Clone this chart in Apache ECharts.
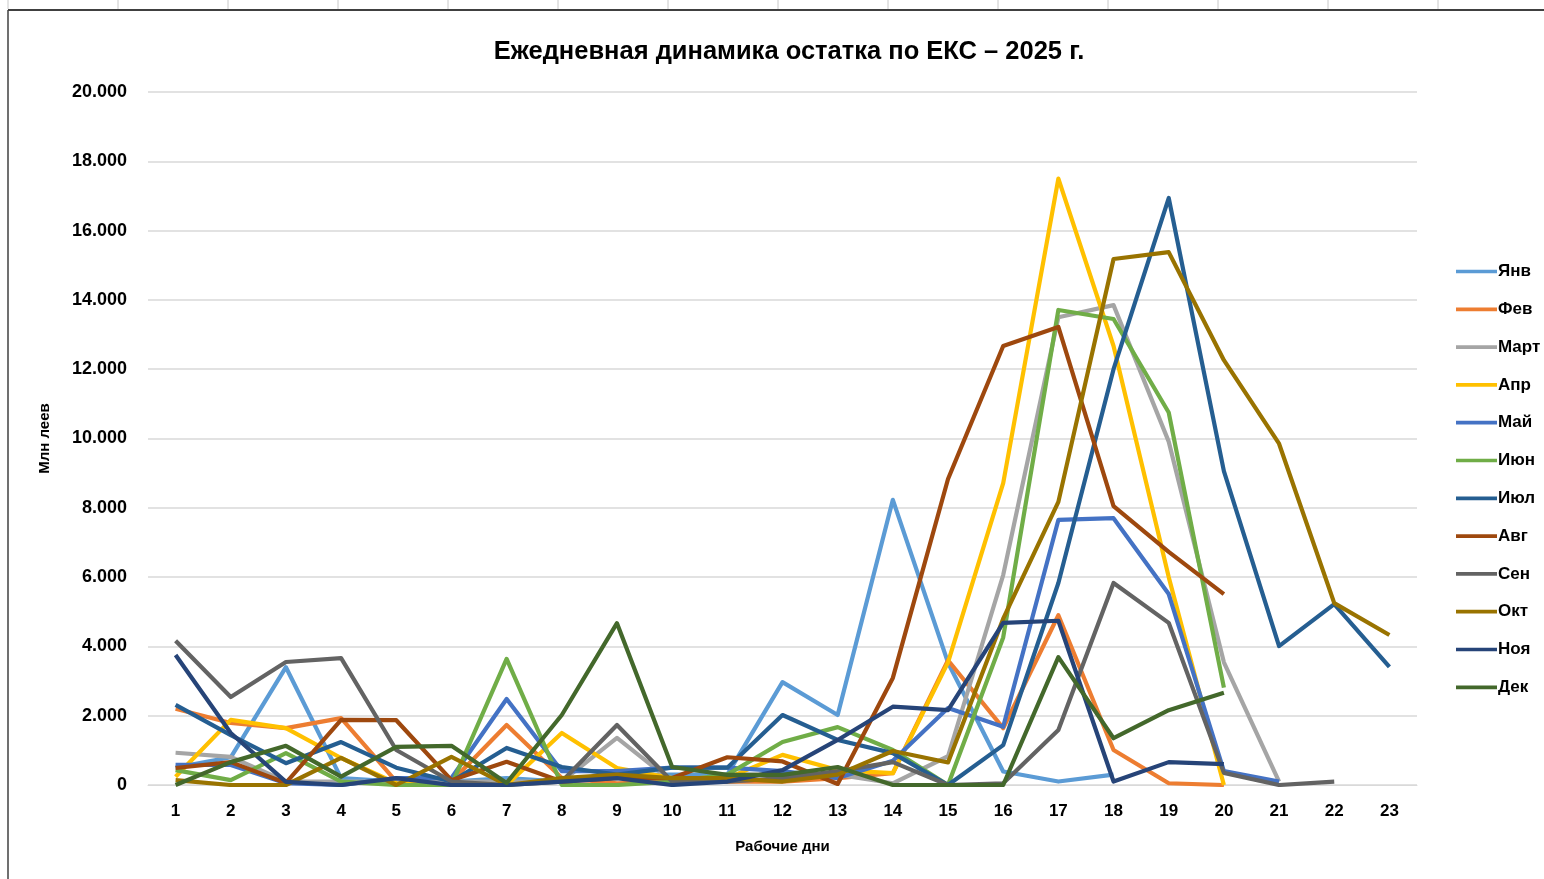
<!DOCTYPE html>
<html>
<head>
<meta charset="utf-8">
<script src="https://cdn.jsdelivr.net/npm/echarts@6/dist/echarts.min.js"></script>
<style>
html,body{margin:0;padding:0;background:#fff;}
#c{width:1544px;height:879px;}
</style>
</head>
<body>
<div id="c"></div>
<script>
const days = ['1','2','3','4','5','6','7','8','9','10','11','12','13','14','15','16','17','18','19','20','21','22','23'];
const monthNames = ['Янв','Фев','Март','Апр','Май','Июн','Июл','Авг','Сен','Окт','Ноя','Дек'];
const colors = ['#5B9BD5','#ED7D31','#A5A5A5','#FFC000','#4472C4','#70AD47','#255E91','#9E480E','#636363','#997300','#264478','#43682B'];

const jan = [500, 800, 3400, 200, 100, 100, 200, 100, 300, 300, 300, 2970, 2020, 8230, 3530, 390, 100, 300];
const feb = [2200, 1790, 1640, 1930, 100, 100, 1730, 200, 50, 100, 100, 100, 200, 340, 3600, 1640, 4900, 1010, 50, 0];
const mar = [930, 810, 100, 100, 100, 100, 100, 100, 1360, 100, 300, 300, 300, 50, 830, 6060, 13500, 13850, 9910, 3540, 100];
const apr = [240, 1880, 1640, 780, 50, 0, 0, 1500, 490, 200, 200, 870, 430, 340, 3540, 8710, 17500, 12670, 6000, 0];
const may = [580, 580, 50, 0, 200, 200, 2480, 400, 400, 500, 500, 400, 200, 700, 2220, 1680, 7650, 7700, 5510, 400, 100];
const jun = [430, 140, 920, 100, 0, 0, 3640, 0, 0, 100, 300, 1240, 1670, 1010, 0, 4260, 13710, 13450, 10750, 2810];
const jul = [2310, 1440, 630, 1240, 500, 100, 1070, 520, 300, 500, 500, 2020, 1300, 920, 0, 1150, 5830, 12000, 16940, 9060, 4010, 5220, 3410];
const aug = [490, 660, 60, 1880, 1870, 140, 670, 100, 200, 200, 800, 680, 30, 3090, 8830, 12670, 13220, 8050, 6730, 5510];
const sep = [4165, 2540, 3550, 3660, 1010, 100, 0, 100, 1730, 100, 100, 200, 400, 660, 0, 50, 1590, 5830, 4680, 350, 0, 100];
const oct = [140, 0, 0, 780, 0, 810, 0, 200, 300, 200, 200, 100, 300, 980, 650, 4800, 8170, 15180, 15380, 12260, 9850, 5250, 4330];
const nov = [3750, 1500, 90, 0, 200, 0, 0, 100, 200, 0, 100, 430, 1300, 2260, 2160, 4680, 4740, 100, 660, 600];
const dec = [0, 660, 1130, 240, 1100, 1130, 60, 2020, 4670, 520, 290, 290, 520, 0, 0, 0, 3690, 1350, 2160, 2660];

const yTicks = [0, 2000, 4000, 6000, 8000, 10000, 12000, 14000, 16000, 18000, 20000];

const allData = [jan, feb, mar, apr, may, jun, jul, aug, sep, oct, nov, dec];
const FONT = 'Liberation Sans, Arial, sans-serif';

const chart = echarts.init(document.getElementById('c'));

const topTicks = [];
for (let i = 0; i < 15; i++) {
  const x = 8 + i * 110;
  topTicks.push({type:'line', shape:{x1:x, y1:0, x2:x, y2:9}, style:{stroke:'#c8c8c8', lineWidth:1}});
}

chart.setOption({
  backgroundColor: '#ffffff',
  color: colors,
  animation: false,
  title: {
    text: 'Ежедневная динамика остатка по ЕКС – 2025 г.',
    left: 784, textAlign: 'center', top: 34,
    textStyle: {fontFamily: FONT, fontWeight: 'bold', fontSize: 25.5, color: '#000'}
  },
  graphic: [
    {type:'line', shape:{x1:8, y1:10, x2:1544, y2:10}, style:{stroke:'#404040', lineWidth:2}},
    {type:'line', shape:{x1:8, y1:10, x2:8, y2:879}, style:{stroke:'#404040', lineWidth:1.5}}
  ].concat(topTicks),
  legend: {
    orient: 'vertical',
    left: 1451, top: 258,
    itemWidth: 41, itemHeight: 16, itemGap: 20.8,
    icon: 'path://M0,0 L44,0 L44,4 L0,4 Z',
    textStyle: {fontFamily: FONT, fontWeight: 'bold', fontSize: 17, color: '#000', padding: [0, 0, 0, -4]},
    data: monthNames
  },
  grid: {left: 148, top: 92, width: 1269, height: 693},
  xAxis: {
    type: 'category', data: days, boundaryGap: true,
    name: 'Рабочие дни', nameLocation: 'middle', nameGap: 54,
    nameTextStyle: {fontFamily: FONT, fontWeight: 'bold', fontSize: 15, color: '#000'},
    axisLine: {show: true, lineStyle: {color: '#d9d9d9', width: 1}},
    axisTick: {show: false},
    axisLabel: {fontFamily: FONT, fontWeight: 'bold', fontSize: 17, color: '#000', margin: 18}
  },
  yAxis: {
    type: 'value', min: 0, max: 20000, interval: 2000,
    name: 'Млн леев', nameLocation: 'middle', nameGap: 96, nameRotate: 90,
    nameTextStyle: {fontFamily: FONT, fontWeight: 'bold', fontSize: 15, color: '#000'},
    axisLine: {show: false}, axisTick: {show: false},
    splitLine: {lineStyle: {color: '#d9d9d9', width: 1.5}},
    axisLabel: {
      fontFamily: FONT, fontWeight: 'bold', fontSize: 18, color: '#000', margin: 21,
      formatter: function (v) { return v === 0 ? '0' : (v / 1000) + '.000'; }
    }
  },
  series: monthNames.map(function (n, i) {
    return {
      name: n, type: 'line', data: allData[i], showSymbol: false, symbol: 'none',
      lineStyle: {width: 4.2, color: colors[i], join: 'round'},
      itemStyle: {color: colors[i]}
    };
  })
});
</script>
</body>
</html>
